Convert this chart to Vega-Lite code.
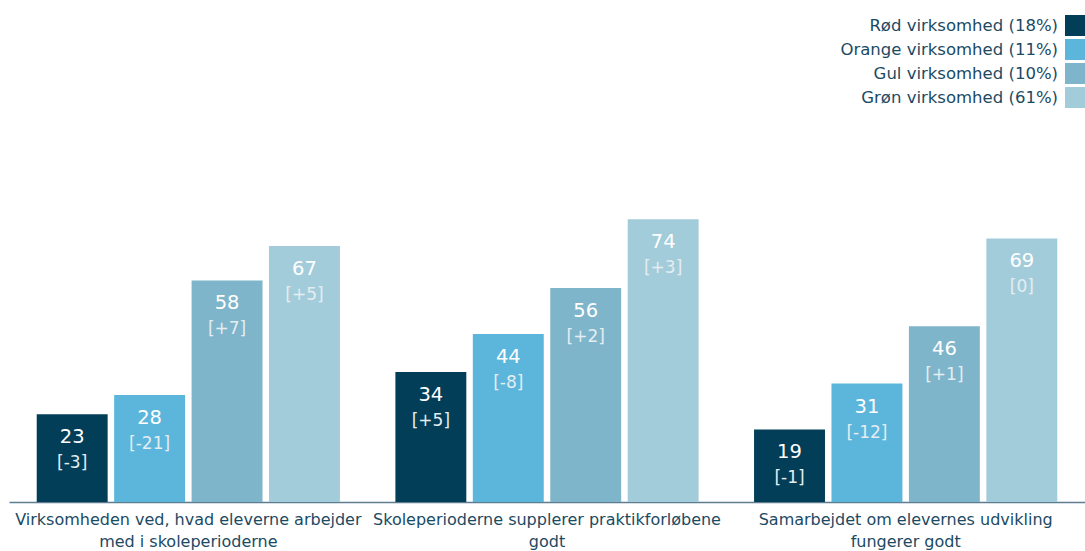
{
  "$schema": "https://vega.github.io/schema/vega-lite/v6.json",
  "width": 1076,
  "height": 382,
  "autosize": {"type": "none"},
  "padding": {"left": 9, "top": 120, "right": 0, "bottom": 49},
  "background": "white",
  "config": {"view": {"stroke": null}, "font": "DejaVu Sans"},
  "data": {"values": [
    {"q": "Virksomheden ved, hvad eleverne arbejder|med i skoleperioderne", "s": "Rød virksomhed (18%)", "v": 23, "c": "[-3]"},
    {"q": "Virksomheden ved, hvad eleverne arbejder|med i skoleperioderne", "s": "Orange virksomhed (11%)", "v": 28, "c": "[-21]"},
    {"q": "Virksomheden ved, hvad eleverne arbejder|med i skoleperioderne", "s": "Gul virksomhed (10%)", "v": 58, "c": "[+7]"},
    {"q": "Virksomheden ved, hvad eleverne arbejder|med i skoleperioderne", "s": "Grøn virksomhed (61%)", "v": 67, "c": "[+5]"},
    {"q": "Skoleperioderne supplerer praktikforløbene|godt", "s": "Rød virksomhed (18%)", "v": 34, "c": "[+5]"},
    {"q": "Skoleperioderne supplerer praktikforløbene|godt", "s": "Orange virksomhed (11%)", "v": 44, "c": "[-8]"},
    {"q": "Skoleperioderne supplerer praktikforløbene|godt", "s": "Gul virksomhed (10%)", "v": 56, "c": "[+2]"},
    {"q": "Skoleperioderne supplerer praktikforløbene|godt", "s": "Grøn virksomhed (61%)", "v": 74, "c": "[+3]"},
    {"q": "Samarbejdet om elevernes udvikling|fungerer godt", "s": "Rød virksomhed (18%)", "v": 19, "c": "[-1]"},
    {"q": "Samarbejdet om elevernes udvikling|fungerer godt", "s": "Orange virksomhed (11%)", "v": 31, "c": "[-12]"},
    {"q": "Samarbejdet om elevernes udvikling|fungerer godt", "s": "Gul virksomhed (10%)", "v": 46, "c": "[+1]"},
    {"q": "Samarbejdet om elevernes udvikling|fungerer godt", "s": "Grøn virksomhed (61%)", "v": 69, "c": "[0]"}
  ]},
  "encoding": {
    "x": {
      "field": "q", "type": "nominal", "sort": null,
      "scale": {"paddingInner": 0, "paddingOuter": 0},
      "axis": {
        "title": null, "labelAngle": 0, "ticks": false,
        "labelExpr": "split(datum.label, '|')",
        "labelFontSize": 16, "labelColor": "#1b4a63", "labelLineHeight": 22,
        "labelPadding": 9, "labelLimit": 400,
        "domainColor": "#5f7d91", "domainWidth": 1.5
      }
    },
    "xOffset": {
      "field": "s", "type": "nominal", "sort": null,
      "scale": {"paddingInner": 0.084, "paddingOuter": 0.358}
    },
    "y": {
      "field": "v", "type": "quantitative",
      "scale": {"domain": [0, 100]},
      "axis": null
    }
  },
  "layer": [
    {
      "mark": {"type": "bar"},
      "encoding": {
        "color": {
          "field": "s", "type": "nominal",
          "scale": {
            "domain": ["Rød virksomhed (18%)", "Orange virksomhed (11%)", "Gul virksomhed (10%)", "Grøn virksomhed (61%)"],
            "range": ["#033e58", "#5cb5db", "#7fb5ca", "#a3ccda"]
          },
          "legend": {
            "title": null, "orient": "none", "legendX": 1056, "legendY": -105,
            "padding": 0, "symbolType": "square", "symbolSize": 441,
            "symbolStrokeWidth": 0, "symbolOpacity": 1,
            "labelAlign": "right", "labelOffset": -28, "labelFontSize": 16.5,
            "labelColor": "#1b4a63", "labelLimit": 400, "rowPadding": 3
          }
        }
      }
    },
    {
      "mark": {"type": "text", "baseline": "middle", "dy": 23, "fontSize": 19.5, "color": "white"},
      "encoding": {"text": {"field": "v", "type": "quantitative"}}
    },
    {
      "mark": {"type": "text", "baseline": "middle", "dy": 49, "fontSize": 17, "color": "#e4edf1"},
      "encoding": {"text": {"field": "c", "type": "nominal"}}
    }
  ]
}
